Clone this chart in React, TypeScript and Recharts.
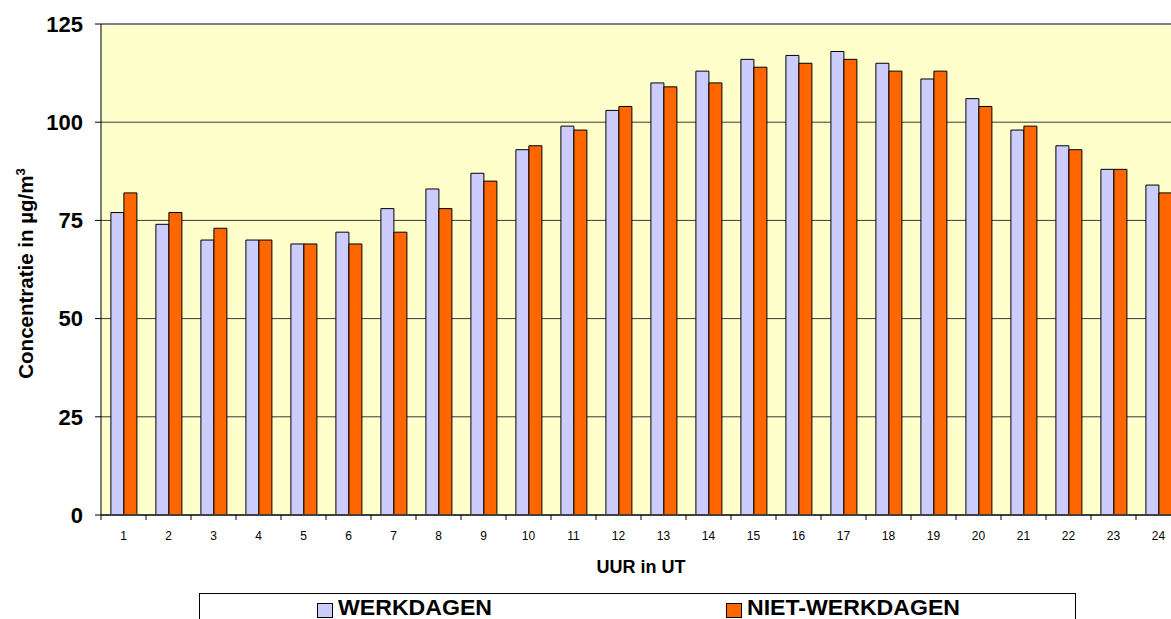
import React from "react";
import {
  BarChart,
  Bar,
  XAxis,
  YAxis,
  CartesianGrid,
  ReferenceLine,
} from "recharts";

const hours = [
  "1", "2", "3", "4", "5", "6", "7", "8", "9", "10", "11", "12",
  "13", "14", "15", "16", "17", "18", "19", "20", "21", "22", "23", "24",
];
const werkdagen = [
  77, 74, 70, 70, 69, 72, 78, 83, 87, 93, 99, 103,
  110, 113, 116, 117, 118, 115, 111, 106, 98, 94, 88, 84,
];
const nietWerkdagen = [
  82, 77, 73, 70, 69, 69, 72, 78, 85, 94, 98, 104,
  109, 110, 114, 115, 116, 113, 113, 104, 99, 93, 88, 82,
];
const yTicks = [0, 25, 50, 75, 100, 125];
const seriesNames = ["WERKDAGEN", "NIET-WERKDAGEN"];
const seriesColors = ["#CCCCFF", "#FF6600"];

const FONT = "'Liberation Sans', Arial, sans-serif";
const X_TICK_SIZE = 5;
const X_TICK_MARGIN = 11;

const data = hours.map((h, i) => ({
  hour: h,
  werk: werkdagen[i],
  nietWerk: nietWerkdagen[i],
}));

// label in the middle of the hour, tick mark on the left boundary of the band
const HourTick = ({ x, y, payload }: any) => {
  const half = payload.offset || 0;
  const top = y - X_TICK_MARGIN - X_TICK_SIZE;
  return (
    <g>
      <line
        x1={x - half}
        x2={x - half}
        y1={top}
        y2={top + X_TICK_SIZE}
        stroke="#000"
        strokeWidth={1}
      />
      <text
        x={x}
        y={y}
        dy="0.71em"
        textAnchor="middle"
        fontFamily={FONT}
        fontSize={12}
        fill="#000"
      >
        {payload.value}
      </text>
    </g>
  );
};

const YLabel = ({ viewBox }: any) => {
  const cx = viewBox.x + 33;
  const cy = viewBox.y + viewBox.height / 2 + 4;
  return (
    <text
      transform={`translate(${cx},${cy}) rotate(-90)`}
      textAnchor="middle"
      fontFamily={FONT}
      fontWeight="bold"
      fontSize={20.5}
      fill="#000"
    >
      Concentratie in µg/m
      <tspan fontSize={13} dy={-8}>
        3
      </tspan>
    </text>
  );
};

const XLabel = ({ viewBox }: any) => (
  <text
    x={viewBox.x + viewBox.width / 2}
    y={viewBox.y + 58}
    textAnchor="middle"
    fontFamily={FONT}
    fontWeight="bold"
    fontSize={18}
    fill="#000"
  >
    UUR in UT
  </text>
);

const App = () => {
  return (
    <div
      style={{
        position: "absolute",
        left: 0,
        top: 0,
        width: 1171,
        height: 619,
        overflow: "hidden",
        background: "#fff",
        fontFamily: FONT,
      }}
    >
      <BarChart
        width={1200}
        height={619}
        data={data}
        margin={{ top: 24, right: 19, left: 0, bottom: 34 }}
        barCategoryGap="22%"
        barGap={0}
      >
        <CartesianGrid vertical={false} fill="#FFFFCC" stroke="#3a3a3a" />
        <XAxis
          dataKey="hour"
          height={70}
          interval={0}
          axisLine={{ stroke: "#404040", strokeWidth: 2 }}
          tickLine={false}
          tickSize={X_TICK_SIZE}
          tickMargin={X_TICK_MARGIN}
          tick={<HourTick />}
          label={<XLabel />}
        />
        <YAxis
          width={101}
          domain={[0, 125]}
          ticks={yTicks}
          interval={0}
          axisLine={{ stroke: "#000" }}
          tickLine={{ stroke: "#000" }}
          tickSize={6}
          tickMargin={12}
          tick={{
            fontSize: 22,
            fontWeight: "bold",
            fill: "#000",
            fontFamily: FONT,
          }}
          label={<YLabel />}
        />
        <ReferenceLine y={125} stroke="#808080" strokeWidth={2} />
        <Bar
          dataKey="werk"
          name={seriesNames[0]}
          fill={seriesColors[0]}
          stroke="#000"
          strokeWidth={1}
          isAnimationActive={false}
        />
        <Bar
          dataKey="nietWerk"
          name={seriesNames[1]}
          fill={seriesColors[1]}
          stroke="#000"
          strokeWidth={1}
          isAnimationActive={false}
        />
      </BarChart>

      {/* legend box, cut off by the bottom edge like the original */}
      <div
        style={{
          position: "absolute",
          left: 199,
          top: 593,
          width: 877,
          height: 40,
          border: "1px solid #000",
          boxSizing: "border-box",
        }}
      >
        {seriesNames.map((name, i) => (
          <div
            key={name}
            style={{
              position: "absolute",
              left: 117 + i * 409,
              top: 0,
              height: 30,
              whiteSpace: "nowrap",
            }}
          >
            <span
              style={{
                position: "absolute",
                left: 0,
                top: 9,
                width: 14,
                height: 13,
                background: seriesColors[i],
                border: "1px solid #000",
              }}
            />
            <span
              style={{
                position: "absolute",
                left: 21,
                top: 2,
                fontSize: 22,
                fontWeight: "bold",
                lineHeight: "24px",
                color: "#000",
                transform: "scaleX(1.05)",
                transformOrigin: "left center",
              }}
            >
              {name}
            </span>
          </div>
        ))}
      </div>
    </div>
  );
};

export default App;
